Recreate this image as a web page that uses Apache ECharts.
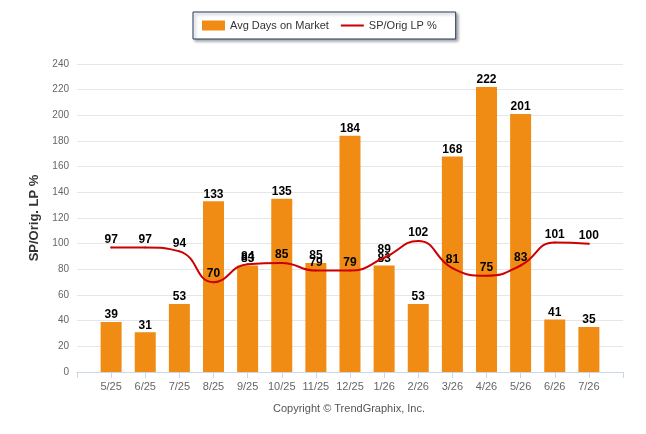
<!DOCTYPE html>
<html lang="en">
<head>
    <meta charset="UTF-8">
    <title>Avg Days on Market / SP-Orig LP %</title>
    <script src="https://cdn.jsdelivr.net/npm/echarts@6/dist/echarts.min.js"></script>
    <style>
        html, body { margin: 0; padding: 0; background: #fff; }
        #chart { width: 646px; height: 434px; }
    </style>
</head>
<body>
    <div id="chart"></div>
    <script>
        // months shown on the x axis
        var months = ['5/25', '6/25', '7/25', '8/25', '9/25', '10/25', '11/25', '12/25',
            '1/26', '2/26', '3/26', '4/26', '5/26', '6/26', '7/26'];
        // bars: average days on market
        var avgDays = [39, 31, 53, 133, 83, 135, 85, 184, 83, 53, 168, 222, 201, 41, 35];
        // line: sold price / original list price %
        var spOrig = [97, 97, 94, 70, 84, 85, 79, 79, 89, 102, 81, 75, 83, 101, 100];

        // one empty slot on each side, like the original axis
        var cats = [''].concat(months, ['']);
        function pad(arr) { return [null].concat(arr, [null]); }

        var chart = echarts.init(document.getElementById('chart'));
        var font = '"Liberation Sans", Arial, sans-serif';
        // thin bar centred in a 23x10 box (the tiny end segments only keep the box size)
        var lineIcon = 'path://M0,0L0.01,0M0,4L23,4L23,6L0,6ZM23,10L22.99,10';

        var option = {
            animation: false,
            textStyle: { fontFamily: font },
            legend: {
                top: 12,
                left: 193,
                padding: [8, 19, 8, 9],
                itemWidth: 23,
                itemHeight: 10,
                itemGap: 12,
                borderColor: '#1f3b5e',
                borderWidth: 1,
                backgroundColor: '#fff',
                shadowColor: 'rgba(0,0,0,0.35)',
                shadowBlur: 3,
                shadowOffsetX: 2,
                shadowOffsetY: 2,
                textStyle: { fontSize: 11, color: '#333', fontFamily: font },
                data: [
                    { name: 'Avg Days on Market', icon: 'rect' },
                    { name: 'SP/Orig LP %', icon: lineIcon }
                ]
            },
            grid: { left: 77, right: 23, top: 64, bottom: 62 },
            xAxis: {
                type: 'category',
                data: cats,
                boundaryGap: false,
                axisLine: { lineStyle: { color: '#ccd6eb' } },
                axisTick: { show: true, length: 6, lineStyle: { color: '#ccd6eb' } },
                axisLabel: { color: '#666', fontSize: 11, margin: 9, interval: 0 },
                splitLine: { show: false }
            },
            yAxis: {
                type: 'value',
                min: 0,
                max: 240,
                interval: 20,
                name: 'SP/Orig. LP %',
                nameLocation: 'middle',
                nameGap: 26,
                nameTextStyle: { fontSize: 13, fontWeight: 'bold', color: '#333' },
                axisLine: { show: false },
                axisTick: { show: false },
                axisLabel: { color: '#666', fontSize: 10, margin: 8 },
                splitLine: { lineStyle: { color: '#e6e6e6' } }
            },
            series: [
                {
                    name: 'Avg Days on Market',
                    type: 'bar',
                    data: pad(avgDays),
                    barWidth: 21,
                    itemStyle: { color: '#f08c14' },
                    label: {
                        show: true,
                        position: 'top',
                        distance: 1,
                        color: '#000',
                        fontWeight: 'bold',
                        fontSize: 12
                    }
                },
                {
                    name: 'SP/Orig LP %',
                    type: 'line',
                    data: pad(spOrig),
                    smooth: 0.5,
                    symbol: 'circle',
                    symbolSize: 2,
                    lineStyle: { color: '#cc0000', width: 2 },
                    itemStyle: { color: '#cc0000' },
                    label: {
                        show: true,
                        position: 'top',
                        distance: 1,
                        color: '#000',
                        fontWeight: 'bold',
                        fontSize: 12
                    }
                }
            ],
            graphic: [{
                type: 'text',
                x: 349,
                y: 403,
                style: {
                    text: 'Copyright \u00a9 TrendGraphix, Inc.',
                    align: 'center',
                    fill: '#555',
                    fontSize: 11,
                    fontFamily: font
                }
            }]
        };
        chart.setOption(option);
    </script>
</body>
</html>
